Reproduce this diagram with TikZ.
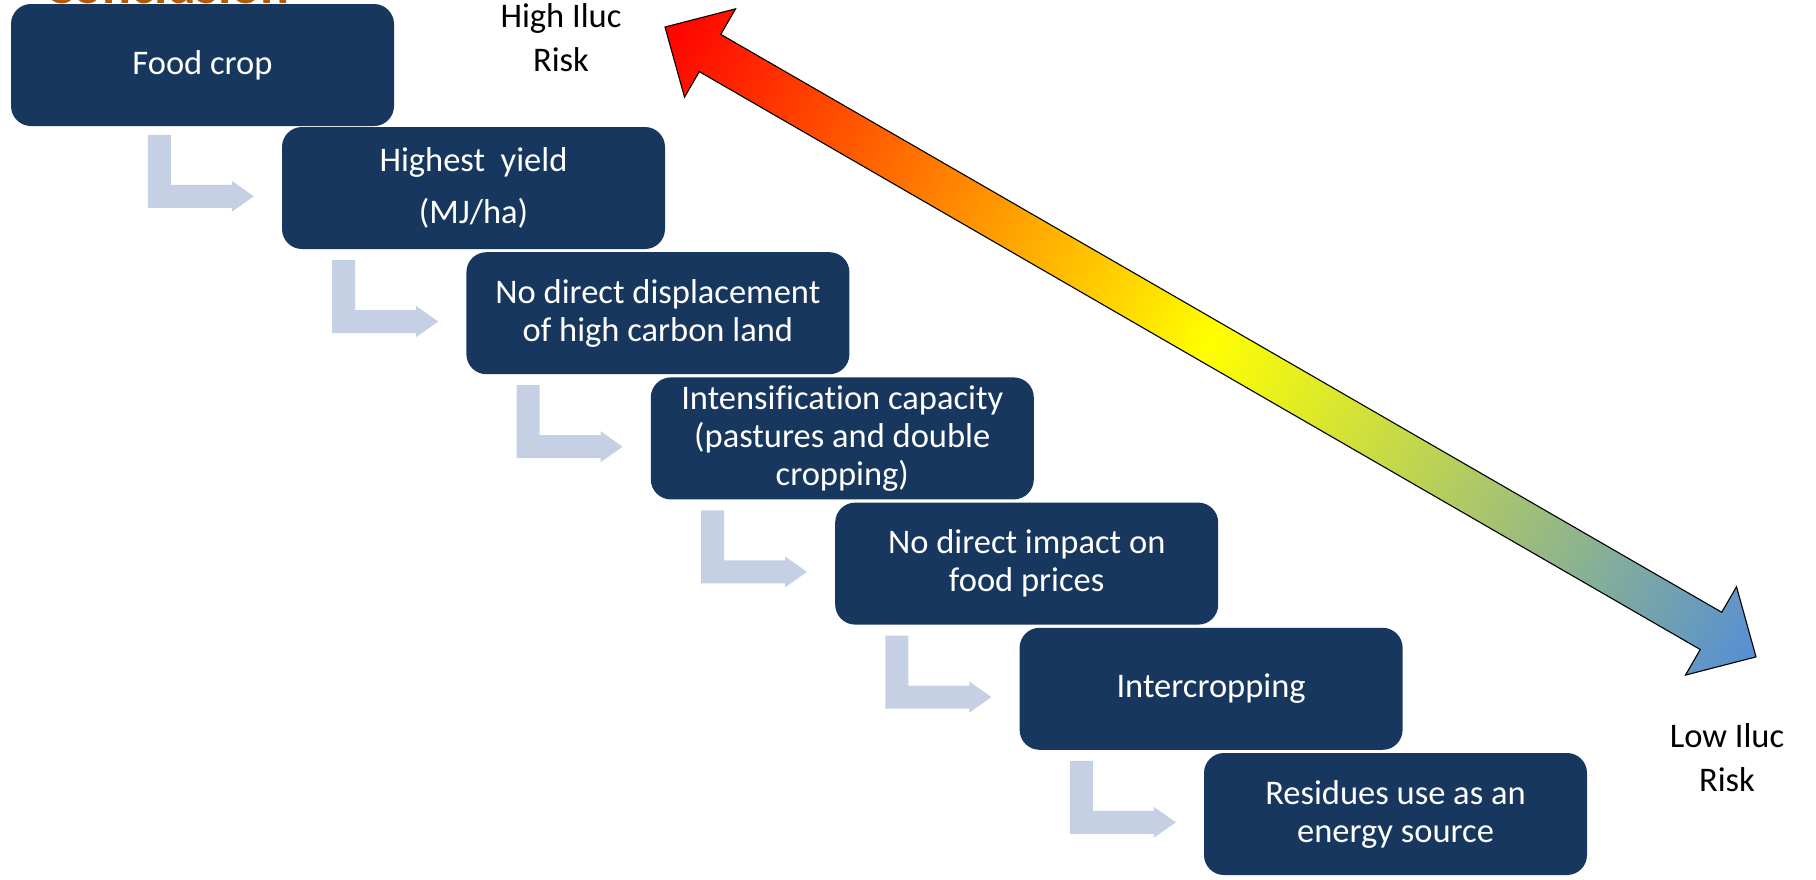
\documentclass[tikz,border=0pt]{standalone}
\usepackage{fontspec}
\setmainfont{Carlito}[Ligatures=NoCommon]
\usetikzlibrary{calc}
\definecolor{boxblue}{HTML}{17375E}
\definecolor{bendgray}{HTML}{C5D0E4}
\definecolor{titleorange}{HTML}{B05A0A}
\definecolor{ilucred}{HTML}{FF0000}
\definecolor{ilucyellow}{HTML}{FFFF00}
\definecolor{ilucblue}{HTML}{558ED5}
\pgfdeclarehorizontalshading{iluc}{100bp}{color(0bp)=(ilucred); color(25bp)=(ilucred); color(50bp)=(ilucyellow); color(75bp)=(ilucblue); color(100bp)=(ilucblue)}
\tikzset{
  stepbox/.style={rectangle, fill=boxblue, rounded corners=20pt, minimum width=383pt, minimum height=122pt, inner sep=0pt, text=white, align=center, font=\fontsize{34.5}{38}\selectfont},
  bendarrow/.style={fill=bendgray},
  risklabel/.style={align=center, inner sep=0pt, text=black, font=\fontsize{34.5}{44}\selectfont},
  bigarrow/.style={shading=iluc, draw=black, line width=1.1pt, line join=miter}
}
\begin{document}
\begin{tikzpicture}[x=1pt,y=-1pt]
\useasboundingbox (0,0) rectangle (1816,879);
\fill[white] (0,0) rectangle (1816,879);
% cut-off title
\begin{scope}
\clip (0,0) rectangle (1816,4);
\node[anchor=base west, inner sep=0pt, text=titleorange, font=\fontsize{54}{60}\selectfont\bfseries] (ttl) at (45,3.5) {Conclusion};
\end{scope}
% steps
\node[stepbox] (b1) at (202.5,65) {Food crop};
\node[stepbox] (b2) at (473.5,188) {Highest~~yield\\[14pt](MJ/ha)};
\node[stepbox] (b3) at (657.9,313.2) {No direct displacement\\of high carbon land};
\node[stepbox] (b4) at (842.3,438.4) {Intensification capacity\\(pastures and double\\cropping)};
\node[stepbox] (b5) at (1026.7,563.6) {No direct impact on\\food prices};
\node[stepbox] (b6) at (1211.1,688.8) {Intercropping};
\node[stepbox] (b7) at (1395.5,814) {Residues use as an\\energy source};
% bent arrows
\foreach \k in {2,...,7}{
  \fill[bendarrow] ($(b\k.north west)+(-134,8)$) -- ++(23,0) -- ++(0,50) -- ++(61,0) -- ++(0,-4) -- ++(22,15.5) -- ++(-22,15.5) -- ++(0,-4) -- ++(-84,0) -- cycle;
}
% labels
\node[risklabel] (hi) at (561,38) {High Iluc\\Risk};
\node[risklabel] (lo) at (1727,758) {Low Iluc\\Risk};
% big double arrow
\coordinate (hitip) at (665,27);
\coordinate (lotip) at (1756,657);
\begin{scope}[transform canvas={shift={(hitip)}, rotate=-30}]
\shadedraw[bigarrow] (0,0) -- (52,-51) -- (52,-21.5) -- (1207.8,-21.5) -- (1207.8,-51) -- (1259.8,0) -- (1207.8,51) -- (1207.8,21.5) -- (52,21.5) -- (52,51) -- cycle;
\end{scope}
\end{tikzpicture}
\end{document}
